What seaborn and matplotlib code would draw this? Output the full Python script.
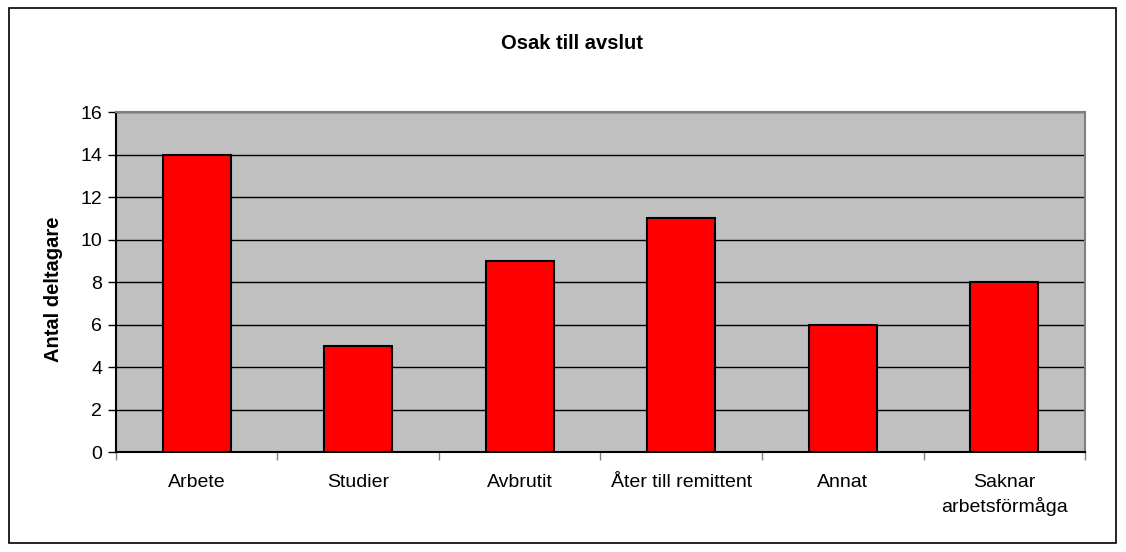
import pandas as pd
import matplotlib
matplotlib.use("Agg")
import matplotlib.pyplot as plt
import seaborn as sb
from matplotlib.patches import Rectangle

categories = ['Arbete', 'Studier', 'Avbrutit', 'Åter till remittent', 'Annat',
              'Saknar\narbetsförmåga']
counts = [14, 5, 9, 11, 6, 8]
yticks = [0, 2, 4, 6, 8, 10, 12, 14, 16]

df = pd.DataFrame({'Orsak': categories, 'Antal': counts})

sb.set_style('white')
plt.rcParams['font.family'] = ['Liberation Sans', 'DejaVu Sans']
plt.rcParams['text.color'] = 'black'
plt.rcParams['axes.labelcolor'] = 'black'
plt.rcParams['xtick.color'] = 'black'
plt.rcParams['ytick.color'] = 'black'

fig = plt.figure(figsize=(11.26, 5.52), dpi=100)
ax = fig.add_axes([0.103, 0.181, 0.8606, 0.616])
ax.set_facecolor('#C0C0C0')

sb.barplot(data=df, x='Orsak', y='Antal', color='#FF0000', width=0.42,
           edgecolor='black', linewidth=1.5, saturation=1, ax=ax, zorder=3)

ax.set_ylim(0, 16)
ax.set_xlim(-0.5, len(categories) - 0.5)
ax.set_yticks(yticks)
ax.yaxis.grid(True, color='black', linewidth=1)
ax.set_axisbelow(True)
ax.tick_params(axis='y', length=6, width=1, labelsize=14, direction='out', left=True, pad=4)
ax.tick_params(axis='x', which='major', length=0, labelsize=14, pad=16)
ax.set_xticks([i - 0.5 for i in range(len(categories) + 1)], minor=True)
ax.tick_params(axis='x', which='minor', length=6, width=1, color='#808080', direction='out', bottom=True)
for lbl in ax.get_xticklabels():
    lbl.set_linespacing(1.35)

for side in ['left', 'bottom']:
    ax.spines[side].set_color('black')
    ax.spines[side].set_linewidth(1.5)
for side in ['top', 'right']:
    ax.spines[side].set_visible(True)
    ax.spines[side].set_color('#808080')
    ax.spines[side].set_linewidth(1.5)

ax.set_xlabel('')
ax.set_ylabel('Antal deltagare', fontsize=14.5, fontweight='bold')
ax.yaxis.set_label_coords(-0.055, 0.48)
fig.text(0.508, 0.922, 'Osak till avslut', ha='center', va='center',
         fontsize=14.5, fontweight='bold')

fig.patches.append(Rectangle((0.008, 0.016), 0.983, 0.97, transform=fig.transFigure,
                             fill=False, edgecolor='black', linewidth=1.2))

plt.savefig('out.png', dpi=100)
